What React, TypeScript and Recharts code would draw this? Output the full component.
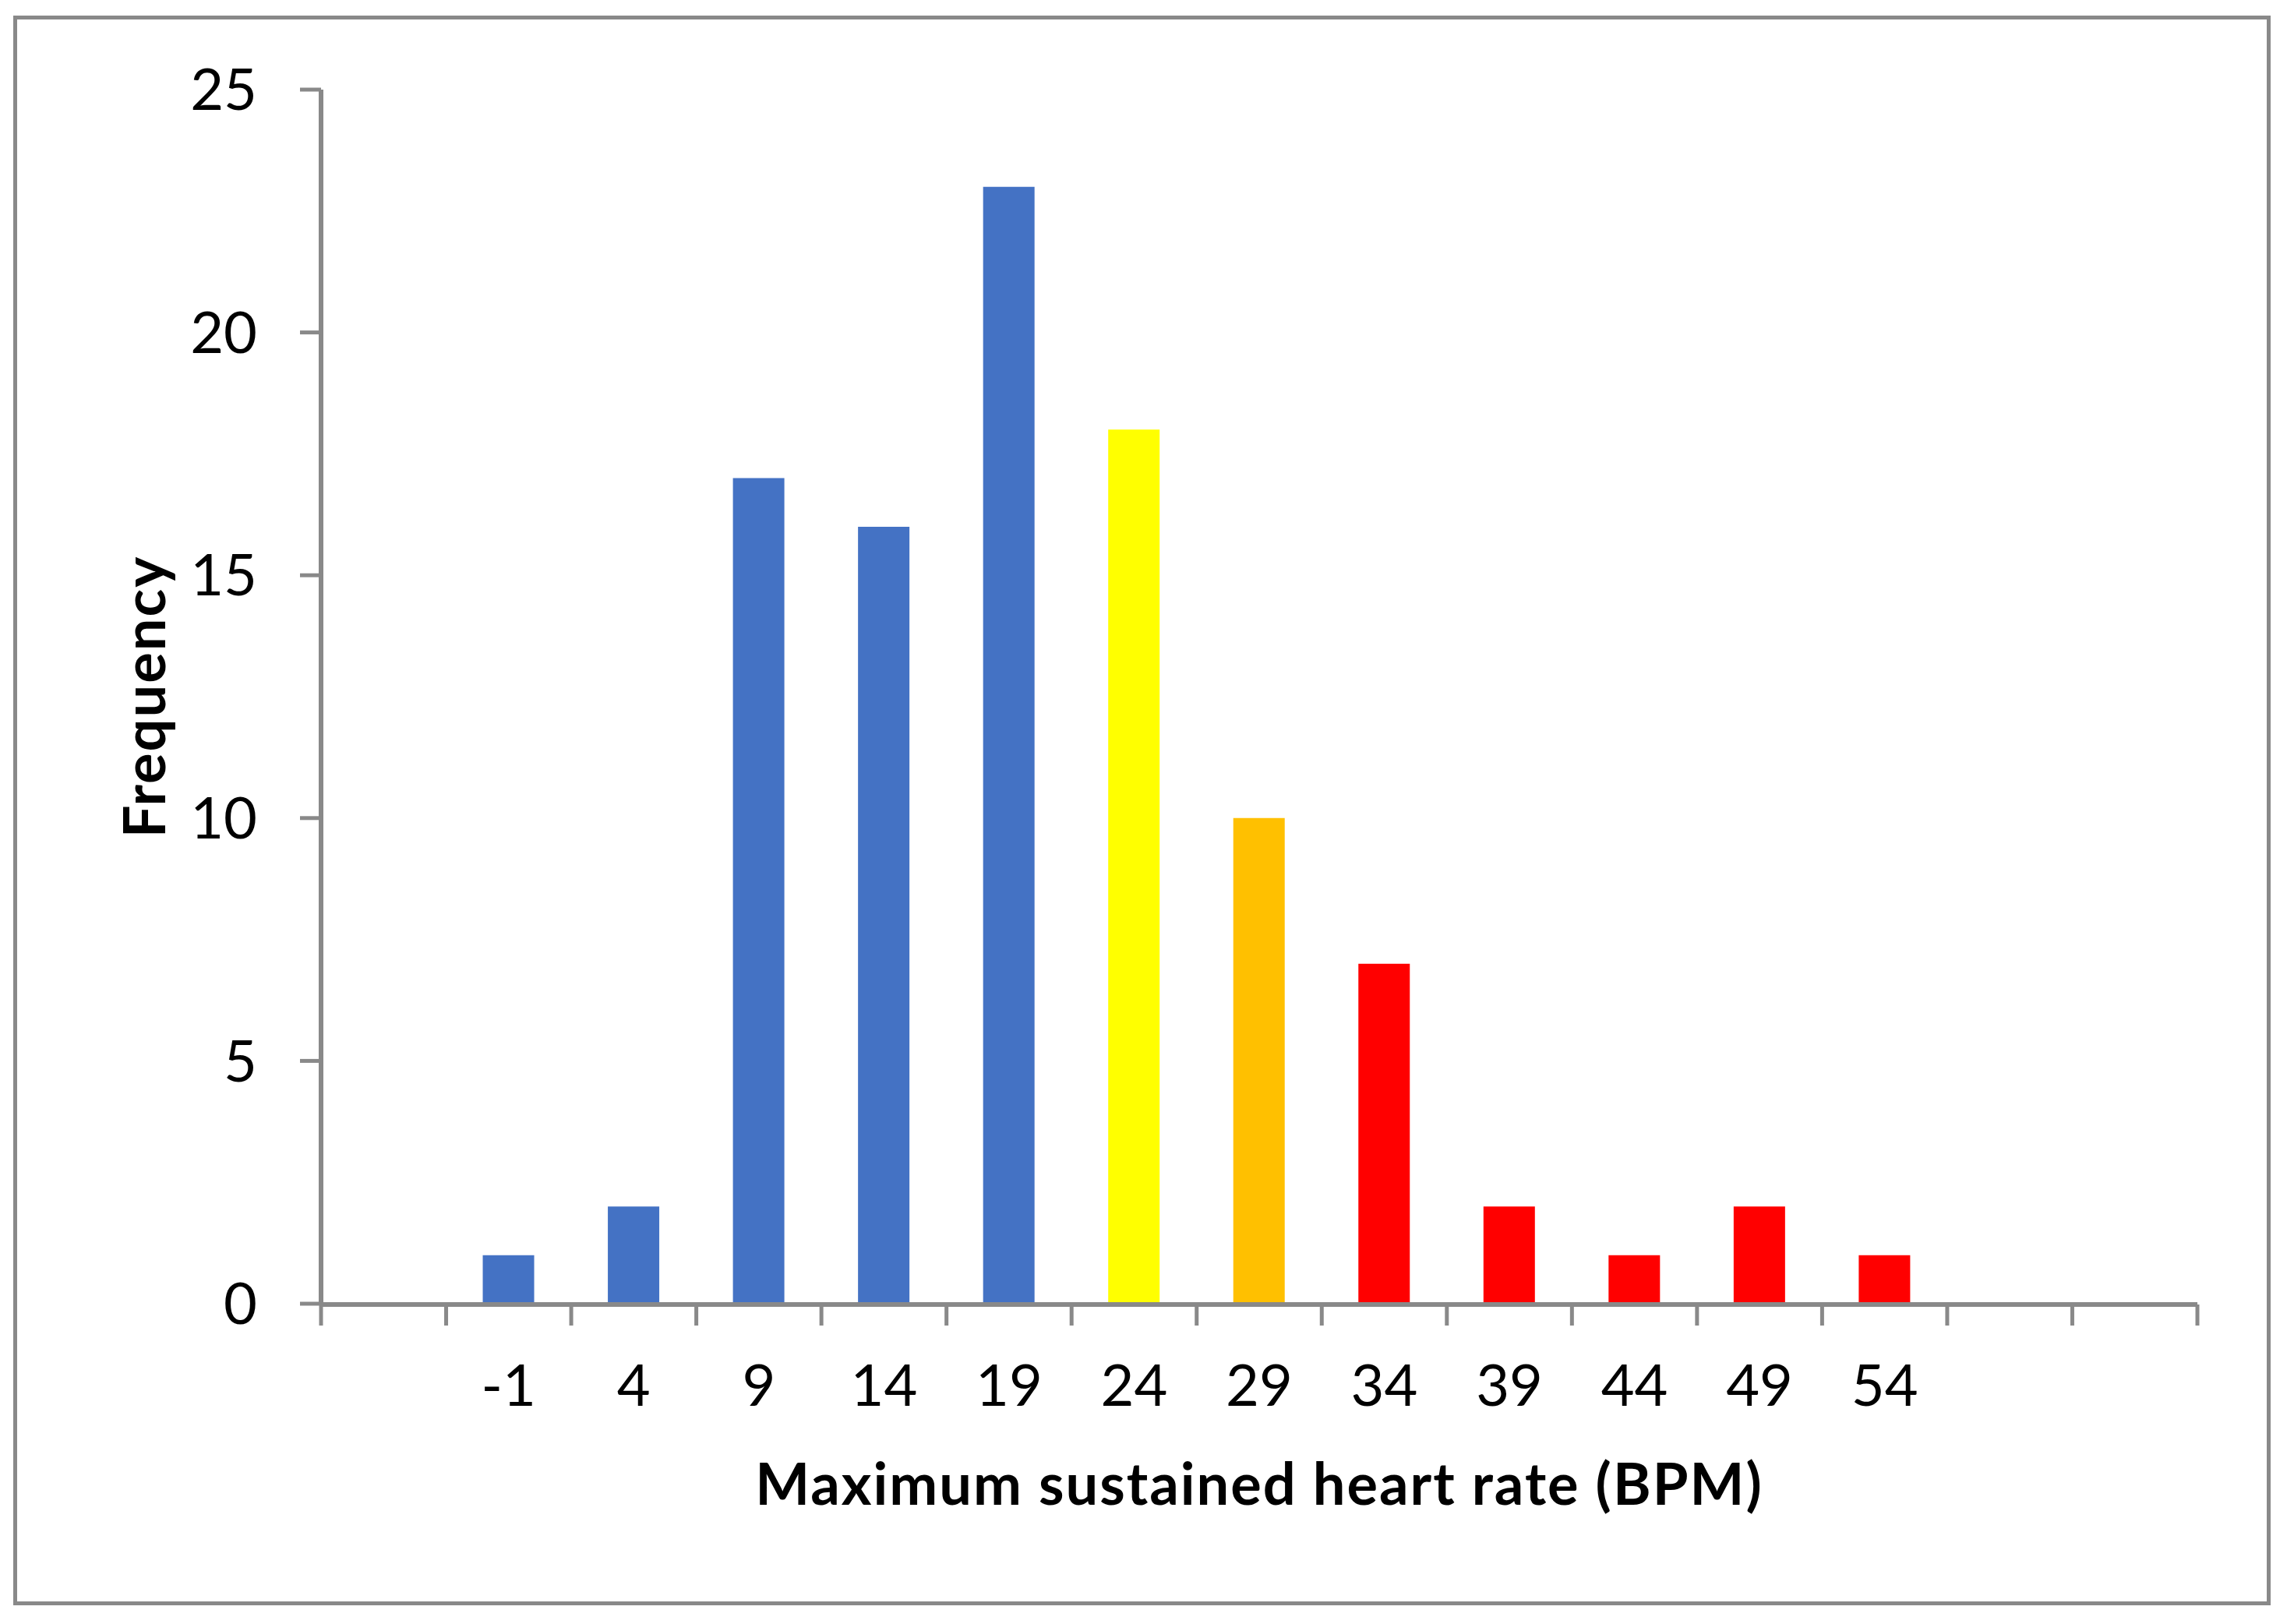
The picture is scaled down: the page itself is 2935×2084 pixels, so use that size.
import React from 'react';
import { BarChart, Bar, XAxis, YAxis, Cell, Label } from 'recharts';

const binLabels = ['', '-1', '4', '9', '14', '19', '24', '29', '34', '39', '44', '49', '54', '', ''];
const frequencies = [0, 1, 2, 17, 16, 23, 18, 10, 7, 2, 1, 2, 1, 0, 0];
const binColors = [
  '#4472C4', '#4472C4', '#4472C4', '#4472C4', '#4472C4', '#4472C4',
  '#FFFF00', '#FFC000',
  '#FF0000', '#FF0000', '#FF0000', '#FF0000', '#FF0000', '#FF0000', '#FF0000',
];
const yTicks = [0, 5, 10, 15, 20, 25];
const edgeTicks = [0, 1, 2, 3, 4, 5, 6, 7, 8, 9, 10, 11, 12, 13, 14, 15];

const data = binLabels.map((label, i) => ({ bin: i, label, frequency: frequencies[i] }));

const FONT = 'Lato, "Open Sans", sans-serif';
const GRAY = '#898989';

const EmptyTick = () => <g />;

const YTitle = (props: any) => {
  const vb = props.viewBox || { x: 0, y: 0, width: 0, height: 0 };
  const cx = vb.x + 183;
  const cy = vb.y + vb.height / 2;
  return (
    <text
      x={cx}
      y={cy}
      transform={`rotate(-90 ${cx} ${cy})`}
      textAnchor="middle"
      dominantBaseline="central"
      fontFamily={FONT}
      fontWeight="bold"
      fontSize={74}
      letterSpacing={2}
      fill="#000"
    >
      Frequency
    </text>
  );
};

export default function App() {
  return (
    <div style={{ position: 'absolute', left: 0, top: 0, width: 2935, height: 2084, background: '#fff' }}>
      <div
        style={{
          position: 'absolute',
          left: 17,
          top: 20,
          width: 2897,
          height: 2040,
          border: `5px solid ${GRAY}`,
          boxSizing: 'border-box',
        }}
      />
      <div style={{ position: 'absolute', left: 0, top: 0 }}>
        <BarChart
          width={2935}
          height={2084}
          data={data}
          margin={{ top: 115, right: 115, left: 0, bottom: 0 }}
        >
          <XAxis
            xAxisId="cat"
            dataKey="bin"
            type="category"
            height={1}
            axisLine={false}
            tickLine={false}
            tickSize={0}
            tickMargin={78}
            interval={0}
            tickFormatter={(v: number) => binLabels[v]}
            tick={{ fontFamily: FONT, fontSize: 74, fill: '#000' }}
          />
          <XAxis
            xAxisId="edges"
            type="number"
            dataKey="bin"
            domain={[0, 15]}
            ticks={edgeTicks}
            interval={0}
            allowDataOverflow
            height={410}
            tick={EmptyTick}
            tickSize={27}
            axisLine={{ stroke: GRAY, strokeWidth: 6 }}
            tickLine={{ stroke: GRAY, strokeWidth: 5 }}
          >
            <Label
              value="Maximum sustained heart rate (BPM)"
              position="insideTop"
              offset={204}
              style={{ fontFamily: FONT, fontWeight: 'bold', fontSize: 74, fill: '#000', letterSpacing: 2 }}
            />
          </XAxis>
          <YAxis
            width={412}
            domain={[0, 25]}
            ticks={yTicks}
            interval={0}
            tickSize={27}
            tickMargin={55}
            axisLine={{ stroke: GRAY, strokeWidth: 6 }}
            tickLine={{ stroke: GRAY, strokeWidth: 5 }}
            tick={{ fontFamily: FONT, fontSize: 74, fill: '#000' }}
          >
            <Label content={<YTitle />} />
          </YAxis>
          <Bar dataKey="frequency" xAxisId="cat" barSize={66} isAnimationActive={false}>
            {data.map((d, i) => (
              <Cell key={i} fill={binColors[i]} />
            ))}
          </Bar>
        </BarChart>
      </div>
    </div>
  );
}
